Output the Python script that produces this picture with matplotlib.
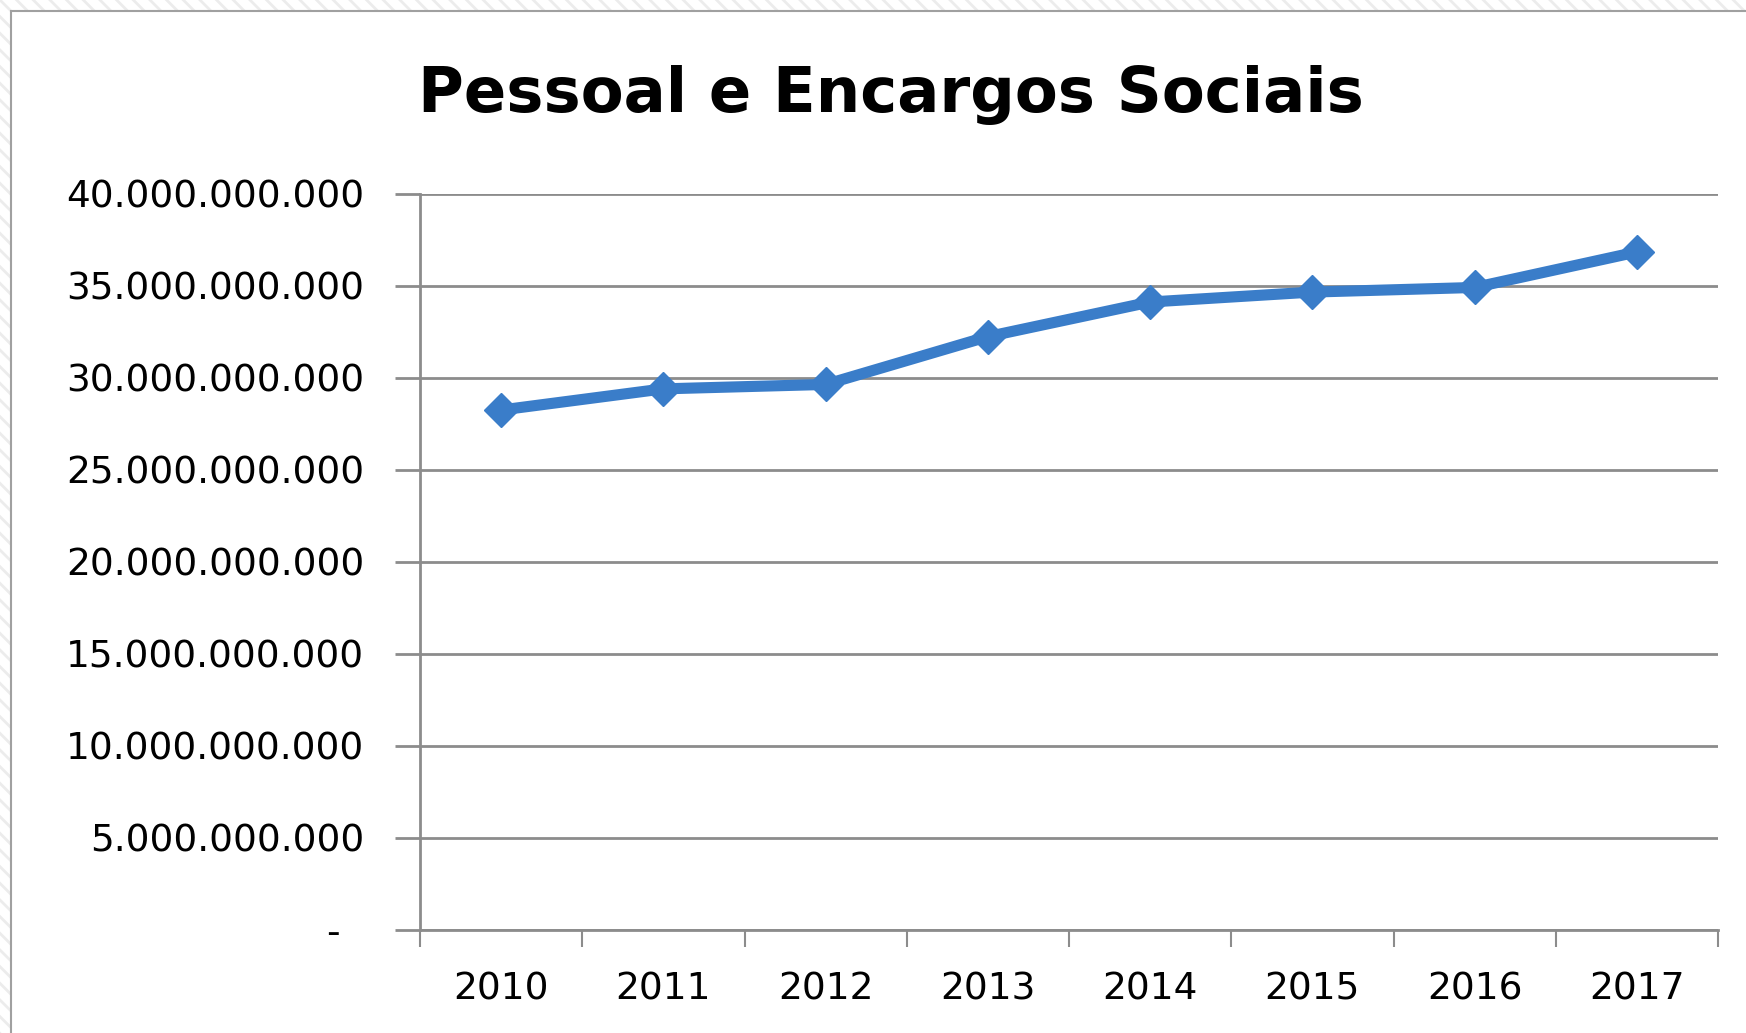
import numpy as np
import matplotlib.pyplot as plt
from matplotlib.patches import Rectangle
from matplotlib.ticker import FuncFormatter

years = ['2010', '2011', '2012', '2013', '2014', '2015', '2016', '2017']
valores = [28.26e9, 29.41e9, 29.65e9, 32.25e9, 34.13e9, 34.67e9, 34.92e9, 36.85e9]
y_ticks = [0, 5e9, 10e9, 15e9, 20e9, 25e9, 30e9, 35e9, 40e9]
title = 'Pessoal e Encargos Sociais'

plt.rcParams['font.family'] = ['DejaVu Sans']
plt.rcParams['hatch.linewidth'] = 2.0

fig = plt.figure(figsize=(17.46, 10.33), dpi=100)

# hatched background outside the chart frame
bg = Rectangle((0, 0), 1, 1, transform=fig.transFigure, facecolor='white',
               edgecolor='#ececec', hatch='\\\\', linewidth=0, zorder=-3)
fig.patches.append(bg)
frame = Rectangle((11 / 1746, -0.01), 1.0, 1 - 11 / 1033 + 0.01, transform=fig.transFigure,
                  facecolor='white', edgecolor='#a0a0a0', linewidth=1.5, zorder=-2)
fig.patches.append(frame)

ax = fig.add_axes([420 / 1746, 1 - 930 / 1033, (1718 - 420) / 1746, (930 - 194) / 1033])
ax.set_facecolor('none')

x = np.arange(len(years))
ax.plot(x, valores, color='#3a7dc9', linewidth=8, marker='D', markersize=17,
        markeredgecolor='#3a7dc9', solid_joinstyle='round', zorder=3)

ax.set_xlim(-0.5, len(years) - 0.5)
ax.set_ylim(0, 40e9)
ax.set_yticks(y_ticks)

def fmt(v, pos):
    if v == 0:
        return '-  '
    return f'{int(v):,}'.replace(',', '.')

ax.yaxis.set_major_formatter(FuncFormatter(fmt))
ax.grid(axis='y', color='#8c8c8c', linewidth=2)
ax.set_axisbelow(True)

ax.set_xticks(x)
ax.set_xticklabels(years)
ax.set_xticks(np.arange(len(years) + 1) - 0.5, minor=True)
ax.tick_params(axis='x', which='major', length=0, labelsize=27, pad=30)
ax.tick_params(axis='x', which='minor', length=12, width=1.5, color='#8c8c8c')
ax.tick_params(axis='y', length=18, width=2, color='#8c8c8c', labelsize=27, pad=22)

for s in ['top', 'right']:
    ax.spines[s].set_visible(False)
for s in ['left', 'bottom']:
    ax.spines[s].set_color('#8c8c8c')
    ax.spines[s].set_linewidth(2)

fig.text(891 / 1746, 1 - 95 / 1033, title, ha='center', va='center',
         fontsize=45, fontweight='bold')

plt.savefig('out.png', dpi=100)
